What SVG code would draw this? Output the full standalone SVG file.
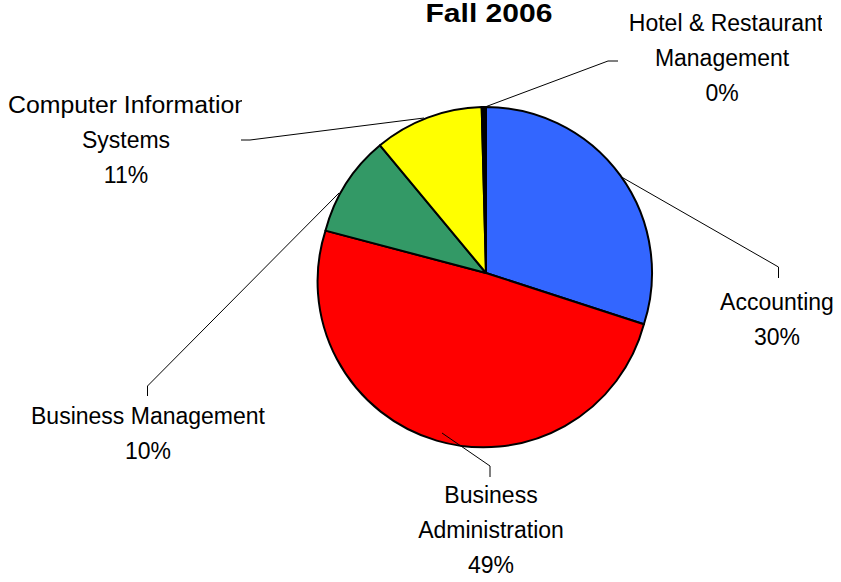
<svg xmlns="http://www.w3.org/2000/svg" width="841" height="582" viewBox="0 0 841 582">
<style>
.lbl{font-family:"Liberation Sans",Arial,sans-serif;font-size:23px;fill:#000;text-anchor:middle}
.title{font-family:"Liberation Sans",Arial,sans-serif;font-size:25px;font-weight:bold;fill:#000;text-anchor:middle}
.slice{stroke:#000;stroke-width:2;stroke-linejoin:round}
.lead{fill:none;stroke:#000;stroke-width:1}
</style>
<defs>
<clipPath id="clipCis"><rect x="0" y="80" width="242" height="120"/></clipPath>
<clipPath id="clipHotel"><rect x="600" y="0" width="222" height="115"/></clipPath>
</defs>
<rect width="841" height="582" fill="#fff"/>
<text class="title" x="489" y="21.5" textLength="127" lengthAdjust="spacingAndGlyphs">Fall 2006</text>
<g id="pie">
<g id="accounting"><path class="slice" fill="#3366FF" d="M486,273 L486,107 A166,166 0 0 1 643.9,324.3 Z"/></g>
<g id="business-administration"><path class="slice" fill="#FF0000" d="M486,273 L643.9,324.3 A166,166 0 1 1 325.5,230.6 Z"/></g>
<g id="business-management"><path class="slice" fill="#339966" d="M486,273 L325.5,230.6 A166,166 0 0 1 380,145.3 Z"/></g>
<g id="cis"><path class="slice" fill="#FFFF00" d="M486,273 L380,145.3 A166,166 0 0 1 481.7,107.1 Z"/></g>
<g id="hotel"><path class="slice" fill="#000" d="M486,273 L481.7,107.1 A166,166 0 0 1 486,107 Z"/></g>
</g>
<g id="connectors">
<polyline class="lead" points="485,107 608,61 618,61"/>
<polyline class="lead" points="424,118 250,140 241,140"/>
<polyline class="lead" points="339,193 147.5,386 147.5,396"/>
<polyline class="lead" points="442,433 490,466 490,477"/>
<polyline class="lead" points="621.5,177 778.5,267 778.5,278"/>
</g>
<g id="label-hotel" clip-path="url(#clipHotel)">
<text class="lbl" x="726" y="31">Hotel &amp; Restaurant</text>
<text class="lbl" x="722" y="66">Management</text>
<text class="lbl" x="722" y="101">0%</text>
</g>
<g id="label-cis">
<text class="lbl" x="8" y="113" style="text-anchor:start" textLength="240" lengthAdjust="spacingAndGlyphs" clip-path="url(#clipCis)">Computer Information</text>
<text class="lbl" x="126" y="148">Systems</text>
<text class="lbl" x="126" y="183">11%</text>
</g>
<g id="label-bm">
<text class="lbl" x="148" y="424">Business Management</text>
<text class="lbl" x="148" y="459">10%</text>
</g>
<g id="label-ba">
<text class="lbl" x="491" y="503">Business</text>
<text class="lbl" x="491" y="538">Administration</text>
<text class="lbl" x="491" y="573">49%</text>
</g>
<g id="label-accounting">
<text class="lbl" x="777" y="310">Accounting</text>
<text class="lbl" x="777" y="345">30%</text>
</g>
</svg>
